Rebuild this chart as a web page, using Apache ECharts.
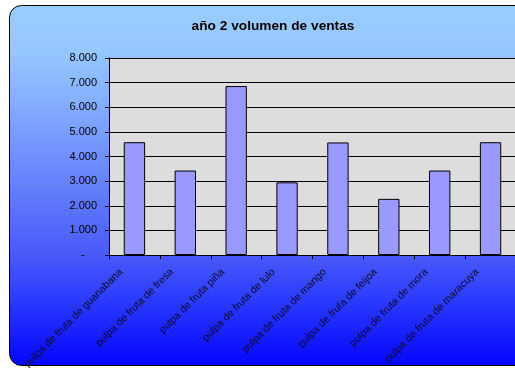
<!DOCTYPE html>
<html>
<head>
<meta charset="utf-8">
<script src="https://cdn.jsdelivr.net/npm/echarts@6/dist/echarts.min.js"></script>
<style>
  html, body { margin: 0; padding: 0; background: #ffffff; }
  #chart { width: 515px; height: 368px; }
</style>
</head>
<body>
<div id="chart"></div>
<script>
// Sales volume for year 2, one bar per fruit pulp product
const titleText = 'año 2 volumen de ventas';
const categories = [
  'pulpa de fruta de guanabana',
  'pulpa de fruta de fresa',
  'pulpa de fruta piña',
  'pulpa de fruta de lulo',
  'pulpa de fruta de mango',
  'pulpa de fruta de feijoa',
  'pulpa de fruta de mora',
  'pulpa de fruta de maracuya'
];
const volumes = [4580, 3430, 6860, 2950, 4570, 2280, 3430, 4580];
const yTicks = { min: 0, max: 8000, step: 1000 };

// Thousands separated with a dot, zero shown as a dash
function fmtThousands(v) {
  if (v === 0) return '-    ';
  return String(v).replace(/\B(?=(\d{3})+(?!\d))/g, '.');
}

const chart = echarts.init(document.getElementById('chart'), null, { renderer: 'canvas' });

const FONT = '"Liberation Sans", Arial, sans-serif';

chart.setOption({
  animation: false,
  backgroundColor: '#ffffff',
  graphic: [{
    type: 'rect',
    z: -10,
    silent: true,
    shape: { x: 9.5, y: 5.5, width: 540, height: 360, r: 12 },
    style: {
      fill: new echarts.graphic.LinearGradient(0, 0, 0, 1, [
        { offset: 0, color: '#99ccff' },
        { offset: 0.12, color: '#96c8ff' },
        { offset: 0.26, color: '#85b0ff' },
        { offset: 0.69, color: '#4a5af8' },
        { offset: 0.82, color: '#2a3aff' },
        { offset: 1, color: '#0505ff' }
      ]),
      stroke: '#000000',
      lineWidth: 1
    }
  }],
  title: {
    text: titleText,
    left: 268,
    top: 14,
    textAlign: 'center',
    textStyle: { fontFamily: FONT, fontSize: 13.7, fontWeight: 'bold', color: '#000000' }
  },
  grid: {
    left: 109,
    top: 58,
    right: -1,
    bottom: 113,
    containLabel: false,
    outerBoundsMode: 'none',
    show: true,
    backgroundColor: '#dddddd',
    borderWidth: 0
  },
  xAxis: {
    type: 'category',
    data: categories,
    boundaryGap: true,
    axisLine: { lineStyle: { color: '#000000', width: 1 } },
    axisTick: { show: true, length: 4, interval: 0, lineStyle: { color: '#000000' } },
    axisLabel: {
      interval: 0,
      rotate: 45,
      margin: 2,
      padding: [0, 19, 38, 0],
      fontFamily: FONT,
      fontSize: 10.5,
      color: '#0a0a30'
    }
  },
  yAxis: {
    type: 'value',
    min: yTicks.min,
    max: yTicks.max,
    interval: yTicks.step,
    axisLine: { show: true, lineStyle: { color: '#000000', width: 1 } },
    axisTick: { show: true, length: 4, lineStyle: { color: '#000000' } },
    axisLabel: {
      margin: 12,
      fontFamily: FONT,
      fontSize: 11,
      color: '#000000',
      formatter: fmtThousands
    },
    splitLine: { show: true, lineStyle: { color: '#000000', width: 1 } }
  },
  series: [{
    type: 'bar',
    data: volumes,
    barWidth: '42%',
    itemStyle: { color: '#9999ff', borderColor: '#000000', borderWidth: 1 }
  }]
});
</script>
</body>
</html>
